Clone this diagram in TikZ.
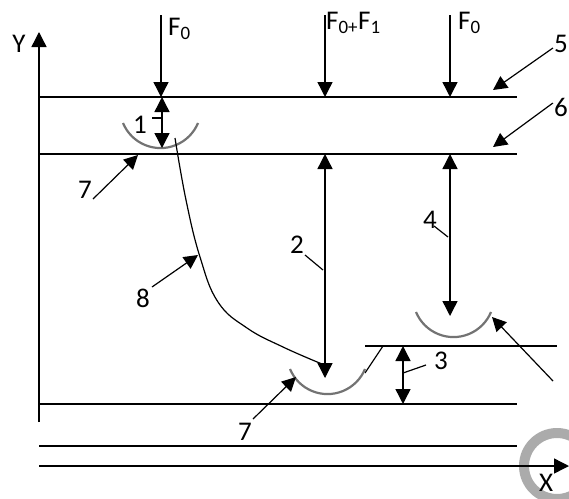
\documentclass[tikz,border=0pt]{standalone}
\usepackage{fontspec}
\setmainfont{Carlito}
\usetikzlibrary{arrows.meta}
\begin{document}
\begin{tikzpicture}[x=1pt,y=-1pt,
  ln/.style={line width=1.4pt},
  arr/.style={ln,-{Triangle[length=15pt,width=15pt]}},
  darr/.style={ln,{Triangle[length=15pt,width=15pt]}-{Triangle[length=15pt,width=15pt]}},
  ptr/.style={line width=1.2pt,-{Triangle[length=14pt,width=14pt]}},
  lead/.style={line width=1.2pt},
  cup/.style={line width=2.2pt,draw=black!55},
  lbl/.style={font=\fontsize{27}{31}\selectfont,inner sep=0pt},
]
\clip (0,0) rectangle (569,498);
\fill[white] (0,0) rectangle (569,498);
% coordinates
\coordinate (yb) at (39,422); \coordinate (yt) at (39,32);
\coordinate (xl) at (39,466); \coordinate (xr) at (569,466);
\coordinate (l5a) at (39,97);  \coordinate (l5b) at (517,97);
\coordinate (l6a) at (39,154); \coordinate (l6b) at (517,154);
\coordinate (l7a) at (39,404); \coordinate (l7b) at (517,404);
\coordinate (l8a) at (39,446); \coordinate (l8b) at (517,446);
\coordinate (ua) at (365,346); \coordinate (ub) at (557,346);
% gray ring
\draw[line width=10pt,draw=black!33] (557,466) circle[radius=33pt];
% axes
\draw[arr] (yb) -- (yt);
\draw[arr] (xl) -- (xr);
\node[lbl] (Y) at (19,44) {Y};
\node[lbl] (X) at (546,483) {X};
% horizontal lines
\draw[ln] (l5a) -- (l5b);
\draw[ln] (l6a) -- (l6b);
\draw[ln] (l7a) -- (l7b);
\draw[ln] (l8a) -- (l8b);
\draw[ln] (ua) -- (ub);
\draw[lead] (383,346) -- (365,373);
% forces
\coordinate (f1s) at (161,15); \coordinate (f1e) at (161,97);
\coordinate (f2s) at (325,15); \coordinate (f2e) at (325,97);
\coordinate (f3s) at (450,15); \coordinate (f3e) at (450,97);
\draw[arr] (f1s) -- (f1e);
\draw[arr] (f2s) -- (f2e);
\draw[arr] (f3s) -- (f3e);
\node[lbl,anchor=west] (F1) at (168,29) {F\textsubscript{0}};
\node[lbl,anchor=west] (F2) at (326,23) {F\textsubscript{0+}F\textsubscript{1}};
\node[lbl,anchor=west] (F3) at (458,23) {F\textsubscript{0}};
% cups
\draw[cup] (123,123) arc[start angle=202.5,end angle=337.5,radius=40.6pt];
\draw[cup] (290,369) arc[start angle=202.5,end angle=337.5,radius=40.6pt];
\draw[cup] (416,312) arc[start angle=202.5,end angle=337.5,radius=40.6pt];
% dimension arrows
\draw[darr] (162,97) -- (162,148);
\draw[darr] (325,154) -- (325,378);
\draw[darr] (450,154) -- (450,316);
\draw[darr] (403,346) -- (403,404);
% curve 8
\draw[lead] plot[smooth,tension=0.7] coordinates {(175,138) (186,200) (200,257) (218,302) (247,328) (283,347) (322,364)};
% labels with leaders
\node[lbl] (n1) at (140,125) {1};
\draw[lead] (152,118) -- (162,118);
\node[lbl] (n2) at (297,245) {2};
\draw[lead] (305,255) -- (323,270);
\node[lbl] (n4) at (430,220) {4};
\draw[lead] (434,226) -- (448,237);
\node[lbl] (n3) at (441,361) {3};
\draw[lead] (403,373) -- (426,365);
\node[lbl] (n8) at (143,298) {8};
\draw[ptr] (152,287) -- (198,255);
\node[lbl] (n7a) at (85,190) {7};
\draw[ptr] (93,199) -- (138,155);
\node[lbl] (n7b) at (245,432) {7};
\draw[ptr] (253,419) -- (296,377);
\node[lbl,anchor=east] (n5) at (568,44) {5};
\draw[ptr] (n5.west) ++(-1,4) -- (493,90);
\node[lbl,anchor=east] (n6) at (568,107) {6};
\draw[ptr] (n6.west) ++(-1,-4) -- (493,147);
\draw[ptr] (553,381) -- (492,317);
\end{tikzpicture}
\end{document}
